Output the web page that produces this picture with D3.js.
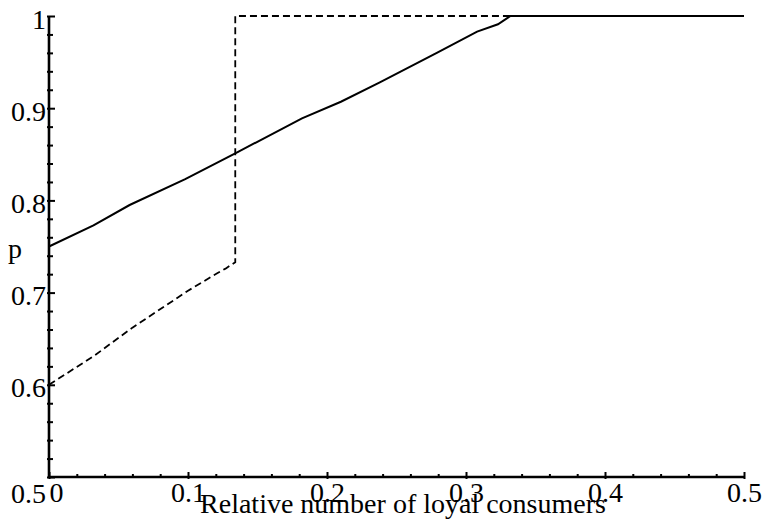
<!DOCTYPE html>
<html>
<head>
<meta charset="utf-8">
<script src="https://cdn.jsdelivr.net/npm/d3@7"></script>
<style>
  body { margin: 0; background: #fff; }
  svg { display: block; font-family: "Liberation Serif", "Times New Roman", serif; }
  .axis path, .axis line { stroke: #000; }
  .axis text { font-family: "Liberation Serif", "Times New Roman", serif; font-size: 28px; fill: #000; }
</style>
</head>
<body>
<svg id="chart" width="766" height="525"></svg>
<script>
// tick labels
const xTickValues = [0, 0.1, 0.2, 0.3, 0.4, 0.5];
const xTickLabels = ['0', '0.1', '0.2', '0.3', '0.4', '0.5'];
const yTickValues = [0.5, 0.6, 0.7, 0.8, 0.9, 1];
const yTickLabels = ['0.5', '0.6', '0.7', '0.8', '0.9', '1'];

// solid curve
const solidX = [0, 0.032, 0.058, 0.098, 0.134, 0.182, 0.21, 0.238, 0.279, 0.308, 0.323, 0.332, 0.5];
const solidP = [0.75, 0.773, 0.795, 0.823, 0.851, 0.889, 0.907, 0.928, 0.96, 0.983, 0.991, 1, 1];

// dashed curve
const dashedX = [0, 0.033, 0.06, 0.1, 0.121, 0.127, 0.134, 0.134, 0.5];
const dashedP = [0.6, 0.632, 0.662, 0.702, 0.721, 0.726, 0.733, 1, 1];

const svg = d3.select('#chart');

const x = d3.scaleLinear().domain([0, 0.5]).range([49, 744]);
const y = d3.scaleLinear().domain([0.5, 1]).range([477, 16]);

const xMinor = d3.range(0, 0.5001, 0.02).filter(v => !xTickValues.some(t => Math.abs(t - v) < 1e-9));
const yMinor = d3.range(0.5, 1.0001, 0.02).filter(v => !yTickValues.some(t => Math.abs(t - v) < 1e-9));

// curves
const line = d3.line().x(d => x(d[0])).y(d => y(d[1]));

svg.append('path')
    .datum(dashedX.map((v, i) => [v, dashedP[i]]))
    .attr('d', line)
    .attr('fill', 'none')
    .attr('stroke', '#000')
    .attr('stroke-width', 1.8)
    .attr('stroke-dasharray', '7,4');

svg.append('path')
    .datum(solidX.map((v, i) => [v, solidP[i]]))
    .attr('d', line)
    .attr('fill', 'none')
    .attr('stroke', '#000')
    .attr('stroke-width', 2);

// x axis: minor ticks, major ticks, labels
svg.append('g').attr('class', 'axis').attr('transform', `translate(0,${y(0.5) + 1})`)
    .call(d3.axisTop(x).tickValues(xMinor).tickSize(4).tickSizeOuter(0).tickFormat(''))
    .call(g => g.select('.domain').remove())
    .selectAll('line').attr('stroke-width', 2);

svg.append('g').attr('class', 'axis').attr('transform', `translate(0,${y(0.5) + 2})`)
    .call(d3.axisTop(x).tickValues(xTickValues).tickSize(7).tickSizeOuter(0).tickFormat(''))
    .call(g => g.select('.domain').remove())
    .selectAll('line').attr('stroke-width', 2);

const xLab = svg.append('g').attr('class', 'axis').attr('transform', `translate(0,${y(0.5)})`)
    .call(d3.axisBottom(x).tickValues(xTickValues).tickSize(0).tickPadding(0)
        .tickFormat((d, i) => xTickLabels[i]));
xLab.select('.domain').remove();
xLab.selectAll('text').attr('dy', 25).attr('y', 0);
xLab.selectAll('text').filter(d => d === 0).attr('text-anchor', 'start');

// y axis: minor ticks, major ticks, labels
svg.append('g').attr('class', 'axis').attr('transform', `translate(${x(0) - 2},0)`)
    .call(d3.axisRight(y).tickValues(yMinor).tickSize(6).tickSizeOuter(0).tickFormat(''))
    .call(g => g.select('.domain').remove())
    .selectAll('line').attr('stroke-width', 2);

svg.append('g').attr('class', 'axis').attr('transform', `translate(${x(0) - 2},0)`)
    .call(d3.axisRight(y).tickValues(yTickValues).tickSize(8).tickSizeOuter(0).tickFormat(''))
    .call(g => g.select('.domain').remove())
    .selectAll('line').attr('stroke-width', 2);

const yLab = svg.append('g').attr('class', 'axis').attr('transform', `translate(${x(0) - 3},0)`)
    .call(d3.axisLeft(y).tickValues(yTickValues).tickSize(0).tickPadding(0)
        .tickFormat((d, i) => yTickLabels[i]));
yLab.select('.domain').remove();
yLab.selectAll('text').attr('dy', 12).attr('x', 0);
yLab.selectAll('text').filter(d => d === 0.5).attr('dy', 25);

// axis lines
svg.append('line')
    .attr('x1', x(0)).attr('x2', x(0.5))
    .attr('y1', y(0.5)).attr('y2', y(0.5))
    .attr('stroke', '#000').attr('stroke-width', 2.6);
svg.append('line')
    .attr('x1', x(0)).attr('x2', x(0))
    .attr('y1', y(0.5)).attr('y2', y(1))
    .attr('stroke', '#000').attr('stroke-width', 2.6);

// axis titles
svg.append('text')
    .attr('x', 403).attr('y', 513)
    .attr('text-anchor', 'middle')
    .style('font-size', '28px')
    .text('Relative number of loyal consumers');

svg.append('text')
    .attr('x', 8).attr('y', 258)
    .style('font-size', '28px')
    .text('p');
</script>
</body>
</html>
